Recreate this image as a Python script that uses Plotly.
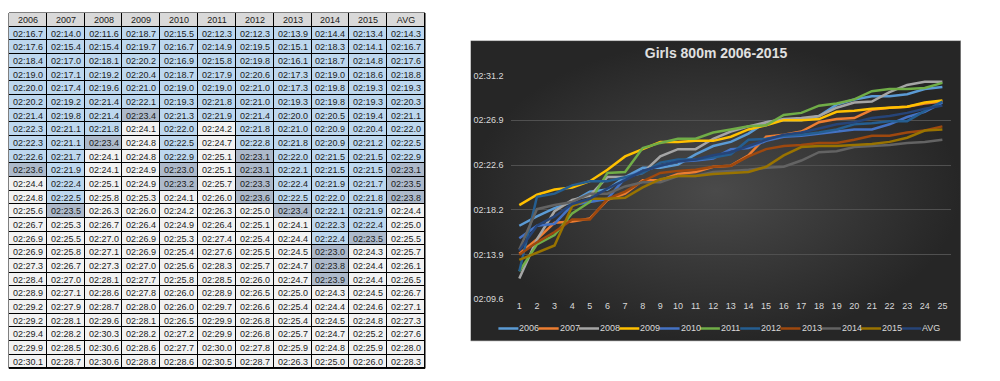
import plotly.graph_objects as go

# ---------------- data (seconds past 2:00) ----------------
SERIES_NAMES = ["2006", "2007", "2008", "2009", "2010", "2011", "2012", "2013", "2014", "2015", "AVG"]
PLACES = list(range(1, 26))

t2006 = [16.7, 17.6, 18.4, 19.0, 20.0, 20.2, 21.4, 22.3, 22.3, 22.6, 23.6, 24.4, 24.8, 25.6, 26.7, 26.9, 26.9, 27.3, 28.4, 28.9, 29.2, 29.2, 29.4, 29.9, 30.1]
t2007 = [14.0, 15.4, 17.0, 17.1, 17.4, 19.2, 19.8, 21.1, 21.1, 21.7, 21.9, 22.4, 22.5, 23.5, 25.3, 25.5, 25.8, 26.7, 27.0, 27.1, 27.9, 28.1, 28.2, 28.5, 28.7]
t2008 = [11.6, 15.4, 18.1, 19.2, 19.6, 21.4, 21.4, 21.8, 23.4, 24.1, 24.1, 25.1, 25.8, 26.3, 26.7, 27.0, 27.1, 27.3, 28.1, 28.6, 28.7, 29.6, 30.3, 30.6, 30.6]
t2009 = [18.7, 19.7, 20.2, 20.4, 21.0, 22.1, 23.4, 24.1, 24.8, 24.8, 24.9, 24.9, 25.3, 26.0, 26.4, 26.9, 26.9, 27.0, 27.7, 27.8, 28.0, 28.1, 28.2, 28.6, 28.8]
t2010 = [15.5, 16.7, 16.9, 18.7, 19.0, 19.3, 21.3, 22.0, 22.5, 22.9, 23.0, 23.2, 24.1, 24.2, 24.9, 25.3, 25.4, 25.6, 25.8, 26.0, 26.0, 26.5, 27.2, 27.7, 28.6]
t2011 = [12.3, 14.9, 15.8, 17.9, 19.0, 21.8, 21.9, 24.2, 24.7, 25.1, 25.1, 25.7, 26.0, 26.3, 26.4, 27.4, 27.6, 28.3, 28.5, 28.9, 29.7, 29.9, 29.9, 30.0, 30.5]
t2012 = [12.3, 19.5, 19.8, 20.6, 21.0, 21.0, 21.4, 21.8, 22.8, 23.1, 23.1, 23.3, 23.6, 25.0, 25.1, 25.4, 25.5, 25.7, 26.0, 26.5, 26.6, 26.8, 26.8, 27.8, 28.7]
t2013 = [13.9, 15.1, 16.1, 17.3, 17.3, 19.3, 20.0, 21.0, 21.8, 22.0, 22.1, 22.4, 22.5, 23.4, 24.1, 24.4, 24.5, 24.7, 24.7, 25.0, 25.4, 25.4, 25.7, 25.9, 26.3]
t2014 = [14.4, 18.3, 18.7, 19.0, 19.8, 19.8, 20.5, 20.9, 20.9, 21.5, 21.5, 21.9, 22.0, 22.1, 22.3, 22.4, 23.0, 23.8, 23.9, 24.3, 24.4, 24.5, 24.7, 24.8, 25.0]
t2015 = [13.4, 14.1, 14.8, 18.6, 19.3, 19.3, 19.4, 20.4, 21.2, 21.5, 21.5, 21.7, 21.8, 21.9, 22.4, 23.5, 24.3, 24.4, 24.4, 24.5, 24.6, 24.8, 25.2, 25.9, 26.0]
tavg = [14.3, 16.7, 17.6, 18.8, 19.3, 20.3, 21.1, 22.0, 22.5, 22.9, 23.1, 23.5, 23.8, 24.4, 25.0, 25.5, 25.7, 26.1, 26.5, 26.7, 27.1, 27.3, 27.6, 28.0, 28.3]

SERIES = [t2006, t2007, t2008, t2009, t2010, t2011, t2012, t2013, t2014, t2015, tavg]

Y_TICK_LABELS = ["02:09.6", "02:13.9", "02:18.2", "02:22.6", "02:26.9", "02:31.2"]

# ---------------- styles ----------------
LINE_COLORS = ["#5B9BD5", "#ED7D31", "#A5A5A5", "#FFC000", "#4472C4", "#70AD47",
               "#255E91", "#9E480E", "#636363", "#997300", "#264478"]
W, H = 1000, 381
BASE = 120.0          # 2:00 in seconds
MAJOR = 4.32          # Excel major unit (0.00005 day)
Y_MIN = 129.6


def fmt(v):
    return "02:%04.1f" % v


def cell_code(v):
    # 1 = fast (blue), 2 = near 2:23 (grey-blue), 3 = slower (plain)
    if v < 23.0:
        return 1
    if v < 24.0:
        return 2
    return 3


fig = go.Figure()

# ---------------- table drawn as a heatmap grid ----------------
n_rows = len(PLACES) + 1
z_grid, text_grid = [], []
for r in range(n_rows):
    if r == 0:
        z_grid.append([0] * len(SERIES_NAMES))
        text_grid.append(list(SERIES_NAMES))
    else:
        z_grid.append([cell_code(s[r - 1]) for s in SERIES])
        text_grid.append([fmt(s[r - 1]) for s in SERIES])

TBL_X = [1.0 / W, 417.0 / W]
TBL_Y = [(H - 365.0) / H, 1.0]
fig.add_shape(type="rect", xref="paper", yref="paper", layer="below",
              x0=TBL_X[0], x1=TBL_X[1], y0=TBL_Y[0], y1=TBL_Y[1],
              fillcolor="#000000", line=dict(color="#000000", width=1))
fig.add_trace(go.Heatmap(
    z=z_grid, text=text_grid, texttemplate="%{text}",
    x=list(range(len(SERIES_NAMES))), y=list(range(n_rows)),
    xaxis="x3", yaxis="y3",
    zmin=0, zmax=3, showscale=False, xgap=1, ygap=1,
    colorscale=[[0, "#D9D9D9"], [1 / 3, "#BDD7EE"], [2 / 3, "#ADB9CA"], [1, "#F2F2F2"]],
    textfont=dict(family="Liberation Sans", size=9, color="#1a1a1a"),
    hoverinfo="skip",
))

# ---------------- chart background (radial gradient) ----------------
fig.add_trace(go.Scatter(
    x=[0, 1, 1, 0, 0], y=[0, 0, 1, 1, 0], xaxis="x", yaxis="y",
    mode="lines", fill="toself", line=dict(color="#BFBFBF", width=1),
    fillgradient=dict(type="radial", colorscale=[[0, "#4A4A4A"], [1, "#262626"]]),
    hoverinfo="skip", showlegend=False,
))

# ---------------- series lines ----------------
for name, vals, col in zip(SERIES_NAMES, SERIES, LINE_COLORS):
    fig.add_trace(go.Scatter(
        x=PLACES, y=[BASE + v for v in vals], xaxis="x2", yaxis="y2",
        mode="lines", name=name, line=dict(color=col, width=2.5),
        showlegend=False,
    ))

box_x = [462.5 / W, 953 / W]
box_y = [(H - 337) / H, (H - 28.3) / H]

fig.update_layout(
    width=W, height=H,
    margin=dict(l=0, r=0, t=0, b=0),
    paper_bgcolor="#FFFFFF", plot_bgcolor="rgba(0,0,0,0)",
    showlegend=False,
    xaxis=dict(domain=box_x, range=[0, 1], visible=False, fixedrange=True),
    yaxis=dict(domain=box_y, range=[0, 1], visible=False, fixedrange=True),
    xaxis2=dict(domain=[502.5 / W, 943.2 / W], range=[0.5, 25.5], anchor="y2",
                tickmode="array", tickvals=PLACES, ticktext=[str(p) for p in PLACES],
                showgrid=False, zeroline=False, showline=False, ticks="",
                tickfont=dict(family="Liberation Sans", size=9, color="#D9D9D9")),
    yaxis2=dict(domain=[(H - 294) / H, (H - 64.3) / H],
                range=[Y_MIN, Y_MIN + MAJOR * (len(Y_TICK_LABELS) - 1)], anchor="x2",
                tickmode="array",
                tickvals=[Y_MIN + MAJOR * i for i in range(len(Y_TICK_LABELS))],
                ticktext=Y_TICK_LABELS,
                showgrid=True, gridcolor="#505050", gridwidth=1,
                zeroline=False, showline=False, ticks="", ticklabelstandoff=6,
                tickfont=dict(family="Liberation Sans", size=9, color="#D9D9D9")),
    xaxis3=dict(domain=TBL_X, range=[-0.5, len(SERIES_NAMES) - 0.5], anchor="y3",
                visible=False, fixedrange=True),
    yaxis3=dict(domain=TBL_Y, range=[n_rows - 0.5, -0.5], anchor="x3",
                visible=False, fixedrange=True),
    title=dict(text="<b>Girls 800m 2006-2015</b>", x=708 / W, y=1 - 45.5 / H,
               xanchor="center", yanchor="middle",
               font=dict(family="Liberation Sans", size=14, color="#E0E0E0")),
)

# ---------------- custom legend (Excel style: short swatch + label) ----------------
LEG_X0, LEG_STEP, LEG_Y, SW = 490.4, 40.3, 324.0, 20.0
for i, (name, col) in enumerate(zip(SERIES_NAMES, LINE_COLORS)):
    x0 = LEG_X0 + i * LEG_STEP
    fig.add_shape(type="line", xref="paper", yref="paper",
                  x0=x0 / W, x1=(x0 + SW) / W, y0=1 - LEG_Y / H, y1=1 - LEG_Y / H,
                  line=dict(color=col, width=2.5))
    fig.add_annotation(text=name, xref="paper", yref="paper",
                       x=(x0 + SW) / W, y=1 - LEG_Y / H, xanchor="left", yanchor="middle",
                       showarrow=False, xshift=-1,
                       font=dict(family="Liberation Sans", size=9, color="#D9D9D9"))

fig.write_html("out.html")
